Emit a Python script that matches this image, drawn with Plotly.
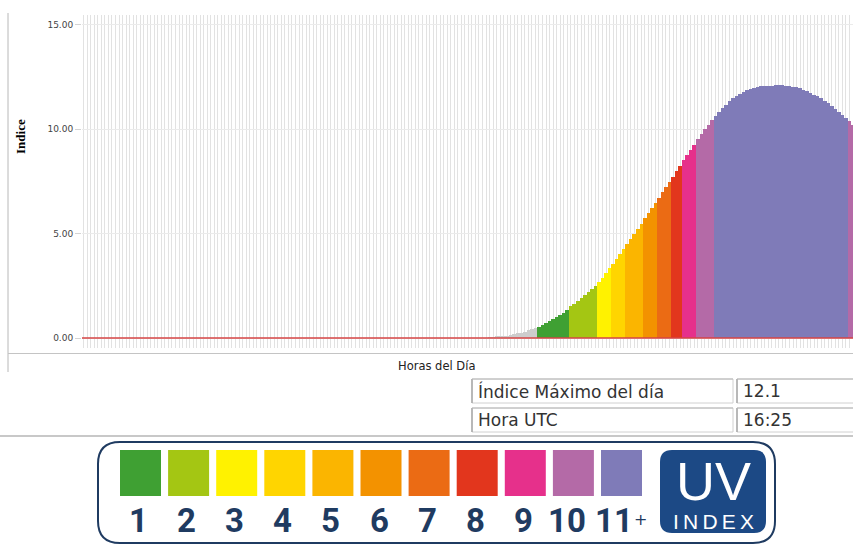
import plotly.graph_objects as go

# ---------------- data ----------------
# 5-minute UTC time steps shown on the chart (00:00 ... 18:10)
hours = [f"{h:02d}:{m:02d}" for h in range(24) for m in range(0, 60, 5)][:219]

# UV index for each 5-minute step
uv_index = [
    0, 0, 0, 0, 0, 0, 0, 0, 0, 0, 0, 0, 0, 0, 0, 0, 0, 0, 0, 0,
    0, 0, 0, 0, 0, 0, 0, 0, 0, 0, 0, 0, 0, 0, 0, 0, 0, 0, 0, 0,
    0, 0, 0, 0, 0, 0, 0, 0, 0, 0, 0, 0, 0, 0, 0, 0, 0, 0, 0, 0,
    0, 0, 0, 0, 0, 0, 0, 0, 0, 0, 0, 0, 0, 0, 0, 0, 0, 0, 0, 0,
    0, 0, 0, 0, 0, 0, 0, 0, 0, 0, 0, 0, 0, 0, 0, 0, 0, 0, 0, 0,
    0, 0, 0, 0, 0, 0, 0, 0, 0, 0, 0, 0, 0, 0, 0,
    0.02, 0.03, 0.05, 0.07, 0.09, 0.11, 0.14, 0.18, 0.22, 0.26,
    0.31, 0.36, 0.41, 0.47, 0.53, 0.62, 0.71, 0.80, 0.90, 1.00,
    1.10, 1.22, 1.34, 1.52, 1.65, 1.79, 1.93, 2.07, 2.21, 2.35,
    2.49, 2.66, 2.88, 3.10, 3.33, 3.56, 3.79, 4.02, 4.26, 4.51,
    4.75, 4.99, 5.23, 5.47, 5.72, 5.97, 6.22, 6.47, 6.72, 6.97,
    7.22, 7.47, 7.72, 7.97, 8.22, 8.52, 8.76, 9.00, 9.25, 9.51,
    9.74, 9.98, 10.20, 10.42, 10.62, 10.82, 11.00, 11.17, 11.32, 11.46,
    11.58, 11.68, 11.77, 11.85, 11.92, 11.97, 12.01, 12.04, 12.06, 12.07,
    12.08, 12.09, 12.10, 12.09, 12.08, 12.06, 12.03, 11.99, 11.94, 11.88,
    11.81, 11.73, 11.64, 11.57, 11.47, 11.36, 11.24, 11.11, 10.97, 10.83,
    10.68, 10.52, 10.36, 10.19,
]

# UV level colours: index 0 = below 0.5, 1..11 = levels 1..11+
level_colors = ["#cdcdcd", "#3fa033", "#a4c613", "#fff200", "#ffd500", "#fbb500",
                "#f39200", "#eb6b14", "#e2361d", "#e6308b", "#b46aa7", "#7f7bb8"]
legend_labels = ["1", "2", "3", "4", "5", "6", "7", "8", "9", "10", "11"]
y_ticks = [0, 5, 10, 15]
table_labels = ["Índice Máximo del día", "Hora UTC"]

# ---------------- derived ----------------
def level_of(v):
    return min(11, int(v + 0.5))

bar_colors = [level_colors[level_of(v)] for v in uv_index]
imax = max(range(len(uv_index)), key=lambda i: uv_index[i])
table_values = [f"{uv_index[imax]:.1f}", hours[imax]]

# ---------------- layout helpers (pixels -> paper) ----------------
W, H = 853, 548
PL, PT, PB = 82, 15, 348      # plot area: left, top, bottom (px)
Y0_PX, Y15_PX = 338, 24.5     # pixel rows of 0 and 15
scale = (Y0_PX - Y15_PX) / 15.0
y_max = (Y0_PX - PT) / scale
y_min = -(PB - Y0_PX) / scale


def X(px):
    return px / W


def Y(py):
    return 1 - py / H


def rrect_path(x0, y0, x1, y1, r):
    pts = [
        ("M", [(x0 + r, y0)]), ("L", [(x1 - r, y0)]), ("Q", [(x1, y0), (x1, y0 + r)]),
        ("L", [(x1, y1 - r)]), ("Q", [(x1, y1), (x1 - r, y1)]), ("L", [(x0 + r, y1)]),
        ("Q", [(x0, y1), (x0, y1 - r)]), ("L", [(x0, y0 + r)]), ("Q", [(x0, y0), (x0 + r, y0)]),
    ]
    s = ""
    for cmd, ps in pts:
        s += cmd + " " + " ".join(f"{X(a):.5f},{Y(b):.5f}" for a, b in ps) + " "
    return s + "Z"


def note(text, px, py, font, xanchor="center", yanchor="middle", **kw):
    return dict(text=text, xref="paper", yref="paper", x=X(px), y=Y(py),
                xanchor=xanchor, yanchor=yanchor, showarrow=False, font=font, **kw)


fig = go.Figure()
fig.add_trace(go.Bar(
    x=hours, y=uv_index,
    marker=dict(color=bar_colors, line=dict(width=0)),
    showlegend=False, hovertemplate="%{x}: %{y:.2f}<extra></extra>",
))

shapes = []
annotations = []

# red baseline at index 0
shapes.append(dict(type="line", xref="paper", yref="y", x0=X(PL), x1=1, y0=0, y1=0,
                   line=dict(color="#d64545", width=1.5), layer="above"))
# page borders
shapes.append(dict(type="line", xref="paper", yref="paper", x0=X(8), x1=X(8), y0=Y(13), y1=Y(372),
                   line=dict(color="#b8b8b8", width=1)))
shapes.append(dict(type="line", xref="paper", yref="paper", x0=X(8), x1=1, y0=Y(353.5), y1=Y(353.5),
                   line=dict(color="#c4c4c4", width=1)))
shapes.append(dict(type="line", xref="paper", yref="paper", x0=0, x1=1, y0=Y(436), y1=Y(436),
                   line=dict(color="#c8c8c8", width=2)))

# axis titles
annotations.append(note("<b>Indice</b>", 20, 137,
                        dict(family="Liberation Serif, DejaVu Serif, serif", size=13, color="#000"),
                        textangle=-90))
annotations.append(note("Horas del Día", 436, 366,
                        dict(family="DejaVu Sans, Verdana", size=11.5, color="#222")))

# table of daily maximum
rows_y = [(379, 403), (408, 432)]
for (ya, yb), lab, val in zip(rows_y, table_labels, table_values):
    for xa, xb, txt in [(472, 733, lab), (737, 858, val)]:
        shapes.append(dict(type="rect", xref="paper", yref="paper", x0=X(xa), x1=X(xb), y0=Y(ya), y1=Y(yb),
                           line=dict(color="#d0d0d0", width=1), fillcolor="white"))
        shapes.append(dict(type="line", xref="paper", yref="paper", x0=X(xa), x1=X(xa), y0=Y(ya), y1=Y(yb),
                           line=dict(color="#a8a8a8", width=1.5)))
        shapes.append(dict(type="line", xref="paper", yref="paper", x0=X(xa), x1=X(xb), y0=Y(ya), y1=Y(ya),
                           line=dict(color="#b8b8b8", width=1)))
        annotations.append(note(txt, xa + 4, (ya + yb) / 2,
                                dict(family="DejaVu Sans, Verdana", size=17, color="#333"),
                                xanchor="left"))

# UV index legend
NAVY = "#1f3b61"
shapes.append(dict(type="path", xref="paper", yref="paper", path=rrect_path(98, 442, 775, 543, 22),
                   line=dict(color=NAVY, width=2), fillcolor="white"))
SQ_X0, SQ_STEP, SQ_W, SQ_Y0, SQ_Y1 = 120, 48.1, 41, 450, 496
num_font = dict(family="Roboto, sans-serif", size=33, color=NAVY, weight="bold")
for k, lab in enumerate(legend_labels):
    xa = SQ_X0 + k * SQ_STEP
    shapes.append(dict(type="rect", xref="paper", yref="paper", x0=X(xa), x1=X(xa + SQ_W),
                       y0=Y(SQ_Y0), y1=Y(SQ_Y1), line=dict(width=0), fillcolor=level_colors[k + 1]))
    cx = xa + SQ_W / 2
    if lab == "11":
        annotations.append(note(lab, cx - 8, 520, num_font))
        annotations.append(note("+", cx + 19, 519, dict(family="DejaVu Sans", size=16, color=NAVY)))
    elif lab == "10":
        annotations.append(note(lab, cx - 6, 520, num_font))
    else:
        annotations.append(note(lab, cx - 2, 520, num_font))

shapes.append(dict(type="path", xref="paper", yref="paper", path=rrect_path(660, 450, 766, 533, 12),
                   line=dict(width=0), fillcolor="#1c4985"))
annotations.append(note("UV", 713, 480.5, dict(family="Liberation Sans, Arial", size=54, color="white")))
annotations.append(note("I\u2009N\u2009D\u2009E\u2009X", 713, 521,
                        dict(family="Liberation Sans, Arial", size=21, color="white")))

fig.update_layout(
    width=W, height=H,
    margin=dict(l=0, r=0, t=0, b=0),
    paper_bgcolor="white", plot_bgcolor="white",
    bargap=0,
    xaxis=dict(domain=[X(PL), 1], type="category", range=[-0.5, 218],
               tickmode="linear", tick0=0, dtick=1, showticklabels=False, ticks="",
               showgrid=True, gridcolor="#e2e2e2", gridwidth=1, zeroline=False, showline=False),
    yaxis=dict(domain=[Y(PB), Y(PT)], range=[y_min, y_max],
               tickmode="array", tickvals=y_ticks, tickformat=".2f", ticksuffix="\u00a0\u00a0\u00a0",
               ticks="outside", ticklen=6, tickcolor="#d4d4d4",
               tickfont=dict(family="DejaVu Sans, Verdana", size=9, color="#444"),
               showgrid=True, gridcolor="#ebebeb", zeroline=False, showline=False),
    shapes=shapes,
    annotations=annotations,
)

fig.write_html("out.html", config={"displayModeBar": False},
               post_script="document.body.style.margin='0';document.body.style.overflow='hidden';")
